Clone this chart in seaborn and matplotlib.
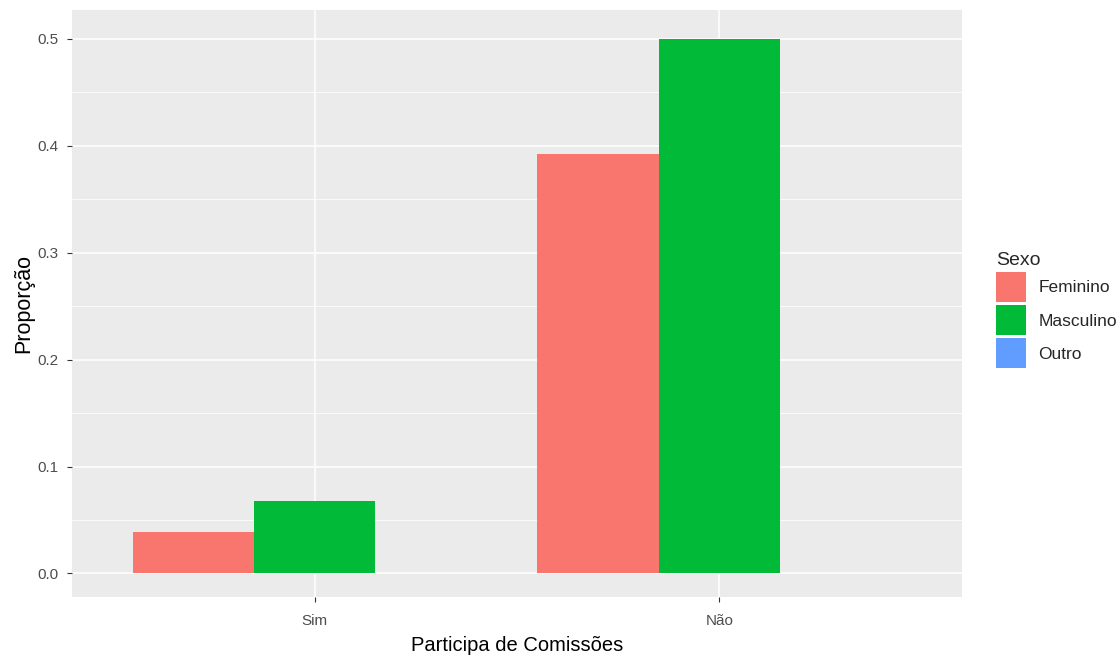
import pandas as pd
import seaborn as sns
from matplotlib import pyplot as plt
from matplotlib.ticker import MultipleLocator

# proportions
categorias = ["Sim", "Não"]
sexos = ["Feminino", "Masculino", "Outro"]
feminino = [0.039, 0.392]
masculino = [0.068, 0.500]
outro = [0.0, 0.0]

cores = ["#F8766D", "#00BA38", "#619CFF"]

df = pd.DataFrame({
    "comissoes": categorias * 3,
    "sexo": [s for s in sexos for _ in categorias],
    "prop": feminino + masculino + outro,
})

sns.set_theme(style="darkgrid")
plt.rcParams["font.family"] = ["Liberation Sans", "DejaVu Sans"]

fig = plt.figure(figsize=(11.2, 6.58), dpi=100)
ax = fig.add_axes([0.0643, 0.0927, 0.7947, 0.892])
ax.set_facecolor("#EBEBEB")

sns.barplot(
    data=df, x="comissoes", y="prop", hue="sexo",
    order=categorias, hue_order=sexos, palette=cores,
    width=0.9, linewidth=0, saturation=1, errorbar=None, ax=ax,
)

ax.set_xlim(-0.6, 1.6)
ax.set_ylim(-0.022, 0.527)
ax.yaxis.set_major_locator(MultipleLocator(0.1))
ax.yaxis.set_minor_locator(MultipleLocator(0.05))
ax.yaxis.set_major_formatter(plt.FuncFormatter(lambda v, p: f"{v:.1f}"))
ax.grid(which="major", color="white", linewidth=1.1)
ax.grid(which="minor", axis="y", color="white", linewidth=0.55)
ax.set_axisbelow(True)
for s in ax.spines.values():
    s.set_visible(False)

ax.tick_params(axis="both", which="major", length=3.5, width=0.8, color="#333333",
               labelsize=11, labelcolor="#4D4D4D")
ax.tick_params(axis="x", which="major", pad=8.5)
ax.tick_params(axis="y", which="major", pad=6.5)
ax.tick_params(axis="both", which="minor", length=0)
ax.tick_params(bottom=True, left=True)

ax.set_xlabel("Participa de Comissões", fontsize=14.5, color="black")
ax.set_ylabel("Proporção", fontsize=15.5, color="black")
ax.xaxis.set_label_coords(0.5, -0.066)
ax.yaxis.set_label_coords(-0.042, 0.5)

handles, labels = ax.get_legend_handles_labels()
ax.legend_.remove()
leg = fig.legend(handles, labels, title="Sexo", loc="upper left",
                 bbox_to_anchor=(0.889, 0.6174), frameon=False,
                 fontsize=12.5, title_fontsize=14, handlelength=1.73,
                 handleheight=2.25, handletextpad=0.72, labelspacing=0.2,
                 borderaxespad=0, borderpad=0)
leg._legend_box.align = "left"

fig.savefig("out.png", dpi=100)
